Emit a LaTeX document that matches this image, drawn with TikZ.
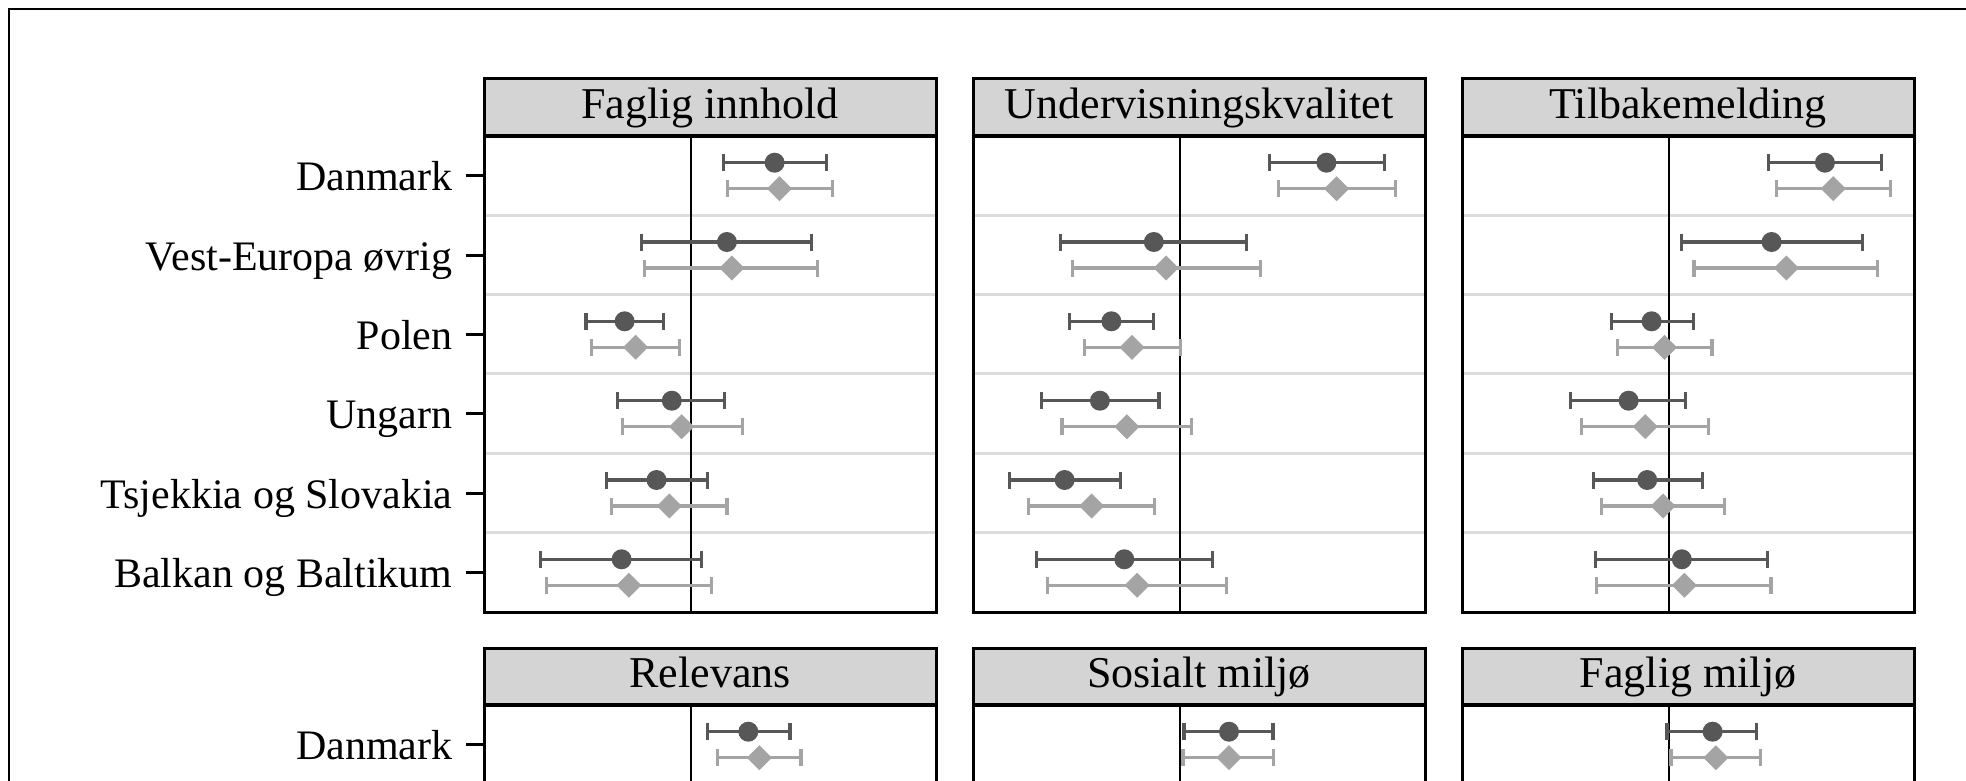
\documentclass[tikz,border=0pt]{standalone}
\usepackage{fontspec}
\setmainfont{Liberation Serif}
\definecolor{darkpt}{HTML}{575757}
\definecolor{lightpt}{HTML}{A4A4A4}
\definecolor{stripfill}{HTML}{D4D4D4}
\definecolor{gridgray}{HTML}{DCDCDC}
\begin{document}
\begin{tikzpicture}[x=1pt, y=-1pt,
    frame/.style={line width=3pt},
    darkbar/.style={darkpt, line width=3.2pt},
    lightbar/.style={lightpt, line width=3.2pt},
    striptext/.style={anchor=base, font=\fontsize{44}{50}\selectfont},
    rowtext/.style={anchor=base east, font=\fontsize{42}{48}\selectfont}]
\useasboundingbox (0,0) rectangle (1966,781);
\clip (0,0) rectangle (1966,781);

\draw[line width=2pt] (8.6,790) -- (8.6,9.3) -- (1970,9.3);

% strips and panels
\foreach \px/\title in {484/Faglig innhold, 973/Undervisningskvalitet, 1462/Tilbakemelding} {
    \draw[frame, fill=stripfill] (\px,79) rectangle (\px+452,136);
    \node[striptext] at (\px+226,118.3) {\title};
    \foreach \k in {1,...,5}
        \draw[gridgray, line width=3pt] (\px,136+79.33*\k) -- (\px+452,136+79.33*\k);
    \draw[frame] (\px,136) rectangle (\px+452,612);
    \draw[line width=4pt] (\px,136) -- (\px+452,136);
    \draw[line width=2.5pt] (\px+207,136) -- (\px+207,612);
}
\foreach \px/\title in {484/Relevans, 973/Sosialt miljø, 1462/Faglig miljø} {
    \draw[frame, fill=stripfill] (\px,648) rectangle (\px+452,705);
    \node[striptext] at (\px+226,687) {\title};
    \draw[frame] (\px,705) rectangle (\px+452,900);
    \draw[line width=4pt] (\px,705) -- (\px+452,705);
    \draw[line width=2.5pt] (\px+207,705) -- (\px+207,900);
}

% row labels
\foreach \y/\name in {175.7/Danmark, 255/Vest-Europa øvrig, 334.3/Polen, 413.7/Ungarn,
                      493/Tsjekkia og Slovakia, 572.3/Balkan og Baltikum, 744.7/Danmark} {
    \draw[line width=3pt] (466,\y) -- (484,\y);
    \node[rowtext] at (456,\y+15) {\name};
}

% estimates: circle above, diamond below
\foreach \y/\cl/\c/\cr/\dl/\d/\dr in {
    175.7/723.2/774.6/826.7/727.5/779.5/832.8,
    255/641.8/726.9/811.4/644.8/731.8/817.5,
    334.3/586/624.6/663.2/591.5/635.6/679.7,
    413.7/617.3/671.8/724.4/622.8/681.6/742.8,
    493/606.2/656.5/707.3/611.1/669.3/726.9,
    572.3/540.1/621.6/701.2/546.8/628.9/711.6,
    175.7/1269.3/1326.4/1384.1/1278.2/1336.6/1395.6,
    255/1060.1/1153.8/1246.8/1072.3/1166/1260.3,
    334.3/1069.7/1111.4/1153.8/1084.5/1132/1180.1,
    413.7/1041.5/1099.9/1158.9/1062/1126.8/1191.6,
    493/1009.4/1064.6/1120.4/1028.7/1091.5/1154.4,
    572.3/1036.4/1124.3/1212.8/1047.3/1137.1/1226.3,
    175.7/1768.4/1824.9/1881.3/1776.1/1833.2/1890.3,
    255/1681.2/1771.6/1862.7/1694/1786.4/1877.5,
    334.3/1611.2/1651.6/1693.4/1617.6/1664.5/1712,
    413.7/1570.8/1628.6/1685.6/1581.7/1645.2/1708.7,
    493/1593.3/1647.2/1702.3/1601.6/1663.2/1724.8,
    572.3/1595.8/1681.8/1767.8/1596.5/1684.4/1771,
    744.7/707.3/748.3/790/717.7/759.3/801,
    744.7/1184/1229/1273/1183/1229/1273.5,
    744.7/1667/1712.6/1756.2/1670.9/1715.8/1760.7} {
    \draw[darkbar] (\cl,\y-21.5) -- (\cl,\y-4.5) (\cl,\y-13) -- (\cr,\y-13) (\cr,\y-21.5) -- (\cr,\y-4.5);
    \fill[darkpt] (\c,\y-13) circle [radius=10];
    \draw[lightbar] (\dl,\y+4.5) -- (\dl,\y+21.5) (\dl,\y+13) -- (\dr,\y+13) (\dr,\y+4.5) -- (\dr,\y+21.5);
    \fill[lightpt] (\d,\y+0.5) -- (\d+12.5,\y+13) -- (\d,\y+25.5) -- (\d-12.5,\y+13) -- cycle;
}
\end{tikzpicture}
\end{document}
